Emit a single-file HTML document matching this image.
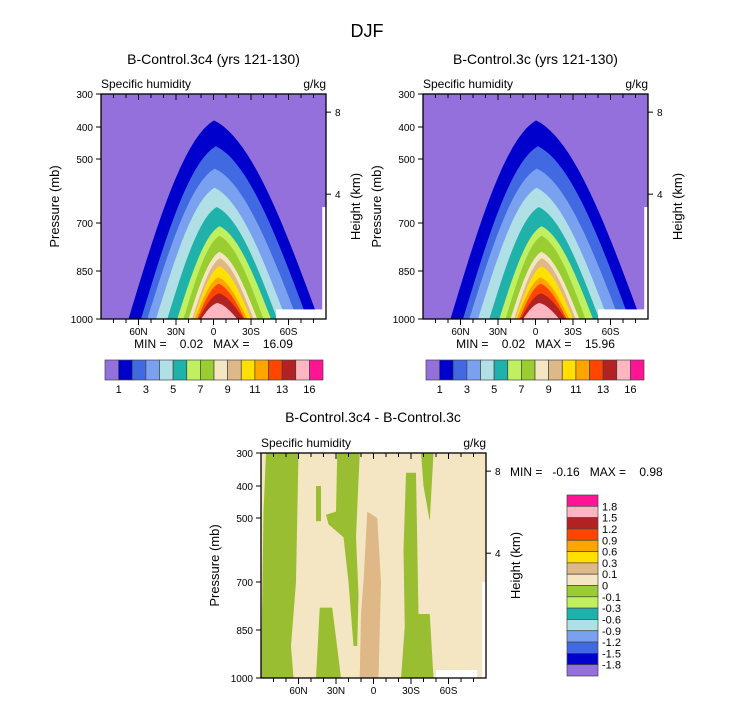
<!DOCTYPE html>
<html><head><meta charset="utf-8">
<style>
html,body{margin:0;padding:0;background:#fff;}
svg{display:block;font-family:"Liberation Sans",sans-serif;}
text{fill:#000;white-space:pre;}
</style></head>
<body>
<svg id="chart" width="733" height="702" viewBox="0 0 733 702" xmlns="http://www.w3.org/2000/svg">
<text x="367" y="37" font-size="18" text-anchor="middle" fill="#333">DJF</text>
</svg>
<script>
// ---- data ----
const pressureTicks = [300, 400, 500, 700, 850, 1000];
const pressurePix = [0, 33, 65, 129, 177, 225]; // axis calibration offsets
const latTicks = [60, 30, 0, -30, -60];
const latTickLabels = ['60N', '30N', '0', '30S', '60S'];
const heightTicks = [8, 4];
const heightPressure = [355, 610];
const qLevels = [1, 2, 3, 4, 5, 6, 7, 8, 9, 10, 11, 12, 13, 14];
const qPeakP = [380, 460, 530, 590, 650, 710, 740, 790, 810, 835, 870, 890, 920, 950];
const qLatN = [68, 58, 53, 46, 37, 29, 24, 20, 17, 16, 15, 13, 12, 10];
const qLatS = [-84, -75, -67, -58, -51, -46, -40, -35, -32, -30, -27, -25, -24, -19];
const qColors = ['#9370DB','#0000CD','#4169E1','#7AA0F0','#B0E0E6','#20B2AA','#C0F060','#9ACD32','#F5E6C3','#DEB887','#FFE000','#FFA500','#FF4500','#B22222','#FFB6C1','#FF1493'];
const cbLabels = ['1','3','5','7','9','11','13','16'];
const diffLabels = ['1.8','1.5','1.2','0.9','0.6','0.3','0.1','0','-0.1','-0.3','-0.6','-0.9','-1.2','-1.5','-1.8'];
const panelMin = ['0.02','0.02'];
const panelMax = ['16.09','15.96'];

const NS='http://www.w3.org/2000/svg';
const svg=document.getElementById('chart');
function el(tag,attrs,parent){const e=document.createElementNS(NS,tag);for(const k in attrs)e.setAttribute(k,attrs[k]);(parent||svg).appendChild(e);return e;}
function txt(s,attrs,parent){const e=el('text',attrs,parent);e.textContent=s;return e;}

function makeAxes(x0,y0){
  const W=225,H=225;
  const xs=lat=>x0+(90-lat)/180*W;
  const ys=p=>{for(let i=0;i<pressureTicks.length-1;i++){if(p<=pressureTicks[i+1]){const t=(p-pressureTicks[i])/(pressureTicks[i+1]-pressureTicks[i]);return y0+pressurePix[i]+t*(pressurePix[i+1]-pressurePix[i]);}}return y0+H;};
  return {x0,y0,W,H,xs,ys};
}
function frame(ax,g){
  const {x0,y0,W,H,xs,ys}=ax;
  el('rect',{x:x0,y:y0,width:W,height:H,fill:'none',stroke:'#000','stroke-width':1.3},g);
  pressureTicks.forEach(p=>{
    el('line',{x1:x0-5,x2:x0,y1:ys(p),y2:ys(p),stroke:'#000'},g);
    const t=txt(String(p),{x:x0-8,y:ys(p)+4,'font-size':10,'text-anchor':'end'},g);
    
    
  });
  for(let lat=-80;lat<=80;lat+=10){
    const maj=lat%30===0;
    el('line',{x1:xs(lat),x2:xs(lat),y1:y0+H,y2:y0+H+(maj?6:4),stroke:'#000'},g);
    el('line',{x1:xs(lat),x2:xs(lat),y1:y0,y2:y0+(maj?6:4),stroke:'#000'},g);
  }
  latTicks.forEach((lat,i)=>{
    const t=txt(latTickLabels[i],{x:xs(lat),y:y0+H+16,'font-size':10,'text-anchor':'middle'},g);
    
    
  });
  heightTicks.forEach((h,i)=>{
    const y=ys(heightPressure[i]);
    el('line',{x1:x0+W,x2:x0+W+5,y1:y,y2:y,stroke:'#000'},g);
    const t=txt(String(h),{x:x0+W+9,y:y+4,'font-size':10},g);
    
    
  });
  const py=txt('Pressure (mb)',{transform:`translate(${x0-42},${y0+H/2}) rotate(-90)`,'font-size':13,'text-anchor':'middle',fill:'#333'},g);
  
  
  const hy=txt('Height (km)',{transform:`translate(${x0+W+34},${y0+H/2}) rotate(-90)`,'font-size':13,'text-anchor':'middle',fill:'#333'},g);
  
  
  const s1=txt('Specific humidity',{x:x0,y:y0-6,'font-size':12,fill:'#222'},g);
  
  
  const s2=txt('g/kg',{x:x0+W,y:y0-6,'font-size':12,'text-anchor':'end',fill:'#222'},g);
  
  
}

function humidityPanel(x0,y0,idx,title,cbx){
  const g=el('g',{});
  
  
  const ax=makeAxes(x0,y0);
  const {xs,ys}=ax;
  el('rect',{x:x0,y:y0,width:ax.W,height:ax.H,fill:qColors[0]},g);
  qLevels.forEach((lv,i)=>{
    const a=qLatN[i],b=qLatS[i],n=40;
    const yb=ys(1000),yt=ys(qPeakP[i]);
    let d=`M${xs(a)},${yb}`;
    for(let k=0;k<=n;k++){
      const t=k/n,lat=a+(b-a)*t;
      const c=0.45;
      const u=t<c?t/c:(1-t)/(1-c);
      const s=0.75*Math.sin(u*Math.PI/2)+0.25*u;
      d+=` L${xs(lat)},${yb-(yb-yt)*s}`;
    }
    d+=' Z';
    const p=el('path',{d,fill:qColors[i+1]},g);
    
    
  });
  el('rect',{x:xs(-50),y:ys(970),width:xs(-90)-xs(-50),height:ys(1000)-ys(970),fill:'#fff'},g);
  el('rect',{x:xs(-87),y:ys(650),width:xs(-90)-xs(-87),height:ys(1000)-ys(650),fill:'#fff'},g);
  frame(ax,g);
  const tt=txt(title,{x:x0+ax.W/2,y:y0-30,'font-size':14,'text-anchor':'middle',fill:'#333'},g);
  
  
  const mm=txt(`MIN =    ${panelMin[idx]}   MAX =    ${panelMax[idx]}`,{x:x0+ax.W/2,y:y0+ax.H+29,'font-size':12,'text-anchor':'middle',fill:'#333'},g);
  
  
  const cb=el('g',{},g);
  
  
  const bw=(218)/qColors.length;
  qColors.forEach((c,i)=>{
    const r=el('rect',{x:cbx+i*bw,y:360,width:bw,height:20,fill:c,stroke:'#444','stroke-width':0.7},cb);
    
    
  });
  cbLabels.forEach((s,i)=>{
    const t=txt(s,{x:cbx+(1+2*i)*bw,y:393,'font-size':11,'text-anchor':'middle'},cb);
    
    
  });
}
humidityPanel(101,94,0,'B-Control.3c4 (yrs 121-130)',105);
humidityPanel(423,94,1,'B-Control.3c (yrs 121-130)',426);

// ---- difference panel ----
const diffGreenBands = [
  [[90,300],[60,300],[62,700],[66,900],[64,1000],[90,1000],[88,480],[86,300]],
  [[46,400],[42,400],[42,510],[46,510]],
  [[29,300],[11,300],[14,560],[12,740],[13,900],[16,900],[20,700],[24,560],[36,520],[38,490],[30,480]],
  [[-26,360],[-34,360],[-36,800],[-45,800],[-48,1000],[-22,1000],[-25,840],[-24,600]],
  [[-48,300],[-38,300],[-40,400],[-45,510]],
  [[43,780],[33,780],[26,1000],[46,1000]]
];
const diffTanBands = [
  [[5,480],[-3,500],[-6,700],[-4,1000],[11,1000],[10,800],[8,700]]
];
(function(){
  const g=el('g',{});
  
  
  const ax=makeAxes(261,453);
  const {xs,ys}=ax;
  el('rect',{x:261,y:453,width:225,height:225,fill:'#F5E6C3'},g);
  const poly=(pts,fill,name)=>{
    const p=el('path',{d:'M'+pts.map(q=>xs(q[0])+','+ys(q[1])).join(' L')+' Z',fill},g);
    
    
  };
  diffGreenBands.forEach(b=>poly(b,'#9ABE32','negative-region'));
  diffTanBands.forEach(b=>poly(b,'#DEB887','positive-region'));
  el('rect',{x:xs(-50),y:ys(975),width:xs(-83)-xs(-50),height:ys(1000)-ys(975),fill:'#fff'},g);
  el('rect',{x:xs(-87),y:ys(700),width:xs(-90)-xs(-87),height:ys(1000)-ys(700),fill:'#fff'},g);
  frame(ax,g);
  const tt=txt('B-Control.3c4 - B-Control.3c',{x:373,y:422,'font-size':14,'text-anchor':'middle',fill:'#333'},g);
  
  
  const mm=txt('MIN =   -0.16   MAX =    0.98',{x:510,y:476,'font-size':12,fill:'#333'},g);
  
  
  const cb=el('g',{},g);
  
  
  const bh=181/qColors.length;
  qColors.slice().reverse().forEach((c,i)=>{
    const r=el('rect',{x:567,y:495+i*bh,width:31,height:bh,fill:c,stroke:'#444','stroke-width':0.7},cb);
    
    
  });
  diffLabels.forEach((s,i)=>{
    const t=txt(s,{x:602,y:495+(i+1)*bh+4,'font-size':11},cb);
    
    
  });
})();
</script>
</body></html>
